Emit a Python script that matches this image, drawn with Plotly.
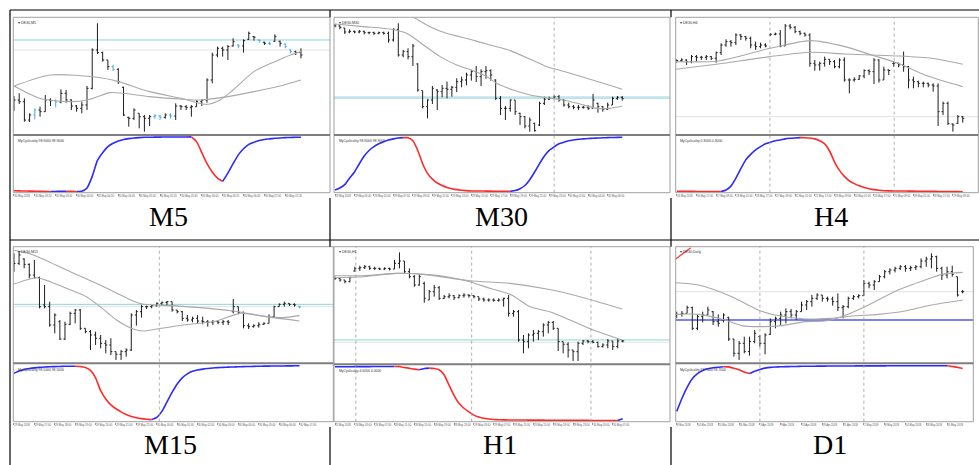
import plotly.graph_objects as go

W, H = 979, 465

# ---------------- M5 ----------------
m5_open = [12680,12700,12695,12640,12655,12670,12665,12700,12698,12694,12720,12700,12682,12675,12685,12735,12850,12842,12820,12800,12792,12738,12648,12645,12660,12650,12645,12650,12652,12648,12655,12652,12682,12680,12678,12680,12695,12700,12760,12835,12855,12850,12862,12865,12862,12882,12890,12880,12873,12870,12876,12876,12868,12850,12845,12842]
m5_high = [12712,12720,12705,12660,12675,12680,12715,12705,12702,12732,12730,12702,12685,12695,12742,12855,12930,12845,12820,12805,12795,12740,12650,12675,12660,12655,12655,12658,12655,12660,12660,12690,12685,12685,12685,12700,12702,12765,12842,12860,12860,12865,12885,12867,12882,12905,12892,12882,12875,12875,12897,12878,12870,12852,12848,12855]
m5_low = [12668,12688,12635,12634,12642,12650,12665,12682,12678,12690,12692,12670,12665,12660,12670,12732,12838,12815,12790,12787,12748,12652,12620,12640,12615,12605,12622,12644,12640,12644,12645,12640,12670,12670,12650,12680,12682,12692,12750,12828,12830,12820,12860,12855,12842,12880,12878,12872,12865,12865,12875,12860,12855,12840,12835,12825]
m5_close = [12700,12695,12640,12655,12670,12665,12700,12698,12694,12720,12700,12682,12675,12685,12735,12850,12842,12820,12800,12792,12755,12655,12645,12670,12650,12645,12650,12652,12648,12655,12652,12682,12680,12678,12680,12695,12700,12760,12835,12855,12850,12860,12875,12862,12878,12900,12888,12878,12870,12868,12890,12870,12860,12845,12842,12835]
m5_marked = [4,8,19,27,28,30,43,47,49,52,53]
m5_ma_fast_x = [0,7,16,20,26,32,37,39.5,42,46,50,53,55]
m5_ma_fast_y = [12742,12775,12768,12755,12725,12705,12687,12700,12730,12785,12815,12835,12845]
m5_ma_slow_x = [0,3,5.6,11,14,16,18.4,21,26,32.5,35.7,41,46,51,55]
m5_ma_slow_y = [12742,12718,12702,12695,12700,12710,12722,12720,12710,12702,12700,12710,12725,12742,12760]
m5_cyc = [2.0,1.8,1.6,1.4,1.2,1.0,0.8,0.6,0.8,1.0,1.2,1.0,0.8,1.0,7,28,57,71,82,88,92,95,96.5,97.7,98.3,98.8,99.0,99.1,99.2,99.3,99.35,99.4,99.45,99.5,99.55,91,71,51,36,25,19,34,51,67,78,86,90,93,95,96,97,97.7,98.3,98.6,98.8,98.9]
m5_levels = [12880, 12850]
m5_separators = []
m5_ticks = ["30 May 2018","30 May 03:20","30 May 03:40","30 May 04:00","30 May 04:20","30 May 04:40","30 May 05:00","30 May 05:20","30 May 05:40","30 May 06:00","30 May 06:20","30 May 06:40","30 May 07:00","30 May 07:20"]

# ---------------- M30 ----------------
m30_open = [12924,12922,12916,12904,12906,12904,12906,12902,12902,12900,12902,12900,12880,12912,12835,12845,12830,12808,12728,12680,12700,12730,12725,12735,12732,12738,12755,12760,12775,12785,12770,12785,12788,12760,12705,12675,12675,12700,12660,12650,12622,12630,12625,12690,12702,12705,12710,12700,12685,12680,12678,12678,12678,12675,12690,12680,12672,12685,12705,12708]
m30_high = [12928,12924,12916,12912,12908,12910,12908,12905,12905,12905,12905,12905,12915,12930,12850,12855,12868,12810,12728,12702,12742,12732,12745,12755,12742,12765,12770,12782,12790,12802,12792,12802,12792,12762,12712,12682,12702,12700,12662,12652,12648,12632,12695,12710,12710,12714,12715,12702,12692,12685,12685,12682,12684,12718,12692,12682,12692,12710,12712,12712]
m30_low = [12918,12912,12898,12900,12900,12900,12897,12897,12895,12897,12896,12872,12875,12830,12828,12822,12802,12725,12675,12645,12688,12670,12708,12705,12710,12724,12738,12744,12758,12754,12742,12764,12758,12700,12655,12640,12665,12655,12625,12615,12605,12605,12622,12685,12700,12702,12695,12680,12675,12672,12670,12674,12670,12675,12662,12665,12670,12685,12700,12698]
m30_close = [12922,12918,12904,12906,12904,12906,12902,12902,12900,12902,12900,12880,12912,12835,12845,12830,12862,12730,12680,12700,12735,12725,12735,12732,12738,12755,12760,12775,12785,12770,12785,12788,12775,12705,12675,12675,12700,12665,12650,12622,12640,12608,12690,12702,12705,12710,12700,12685,12680,12678,12678,12678,12675,12700,12680,12672,12685,12705,12708,12704]
m30_marked = []
m30_ma_fast_x = [0,5.8,11.6,14.7,18.2,21.6,25,28.4,31.2,33.2,36.6,40.1,42.8,46.9,50.3,53.8,56.5,59]
m30_ma_fast_y = [12928,12920,12912,12900,12865,12830,12805,12788,12770,12750,12730,12715,12708,12700,12688,12675,12675,12682]
m30_ma_slow_x = [12.7,16.1,19.5,22.9,27.7,31.8,36,40.1,43.5,46.9,51,55.1,59]
m30_ma_slow_y = [12970,12948,12920,12900,12882,12865,12848,12822,12800,12786,12768,12750,12732]
m30_cyc = [3.5,7,13,25,36,51,65,75,82,87,91,94,96,97.7,98.3,98.0,92.5,75,51,33.5,23,16,11.5,8,5.8,4,2.9,2.3,1.7,1.6,1.5,1.4,1.3,1.2,1.1,1.0,0.9,2.3,5.8,11.5,22,36,51,65,75,81.5,87,90,92.5,94,95.4,96,96.6,97.1,97.5,97.9,98.2,98.5,98.7,98.9]
m30_levels = [12707]
m30_separators = [45]
m30_ticks = ["29 May 2018","29 May 03:00","29 May 05:00","29 May 07:00","29 May 09:00","29 May 11:00","29 May 13:00","29 May 15:00","29 May 17:00","29 May 19:00","29 May 21:00","29 May 23:00","30 May 02:00","30 May 04:00","30 May 06:00"]

# ---------------- H4 ----------------
h4_open = [12818,12818,12820,12815,12830,12828,12828,12830,12825,12842,12865,12875,12872,12895,12890,12885,12865,12860,12865,12895,12897,12898,12862,12922,12918,12905,12900,12895,12810,12805,12810,12822,12815,12800,12820,12760,12760,12762,12772,12788,12785,12820,12760,12790,12810,12810,12805,12800,12760,12755,12750,12750,12745,12742,12665,12690,12628,12630,12650]
h4_high = [12822,12825,12822,12835,12835,12832,12835,12832,12845,12870,12882,12880,12900,12898,12892,12890,12875,12872,12870,12900,12902,12910,12928,12928,12922,12908,12902,12900,12820,12815,12830,12822,12820,12825,12828,12765,12768,12775,12792,12792,12825,12822,12800,12792,12815,12812,12845,12802,12770,12758,12755,12752,12750,12750,12695,12695,12630,12655,12652]
h4_low = [12812,12815,12805,12810,12815,12820,12820,12820,12812,12835,12860,12860,12865,12880,12878,12855,12850,12855,12858,12892,12894,12858,12862,12912,12900,12894,12890,12800,12788,12788,12800,12805,12795,12795,12755,12720,12755,12760,12765,12775,12748,12752,12760,12775,12800,12798,12785,12735,12735,12738,12738,12738,12725,12622,12655,12625,12605,12628,12632]
h4_close = [12818,12820,12815,12830,12828,12828,12830,12825,12842,12865,12875,12872,12895,12890,12885,12865,12860,12865,12862,12897,12898,12862,12922,12918,12905,12900,12895,12810,12805,12810,12822,12815,12800,12820,12760,12760,12762,12772,12788,12785,12820,12760,12790,12788,12810,12805,12800,12760,12755,12750,12750,12745,12742,12665,12690,12630,12625,12650,12645]
h4_marked = []
h4_ma_fast_x = [-0.2,8.4,18.9,27.1,34.1,39.5,44.9,50.3,58]
h4_ma_fast_y = [12815,12817,12855,12878,12860,12835,12810,12775,12740]
h4_ma_slow_x = [-0.2,8.4,18.9,27.1,34.1,39.5,44.9,51.7,58]
h4_ma_slow_y = [12792,12808,12830,12843,12838,12835,12832,12825,12807]
h4_cyc = [1.2,1.1,1.0,0.9,0.8,0.75,0.7,0.65,0.6,0.55,3.5,10.4,25,42,58,68,76,82,87,90,92.5,94,96,97,97.7,98.3,98.1,97.5,96,92.5,87,74,54,39,28,20,15,11,8,5.8,4,2.9,2.0,1.8,1.7,1.6,1.5,1.4,1.3,1.2,1.1,1.0,0.9,0.8,0.7,0.6,0.5,0.4,0.3]
h4_levels = [12650]
h4_separators = [18.9, 44.1]
h4_ticks = ["16 May 2018","16 May 17:00","17 May 09:00","18 May 01:00","18 May 17:00","21 May 09:00","22 May 01:00","22 May 17:00","23 May 09:00","24 May 01:00","24 May 17:00","25 May 09:00","28 May 01:00","28 May 17:00","29 May 09:00"]

# ---------------- M15 ----------------
m15_open = [12930,12915,12928,12912,12880,12872,12790,12785,12730,12740,12688,12732,12765,12775,12720,12710,12700,12690,12675,12670,12650,12642,12650,12655,12760,12770,12785,12785,12788,12795,12798,12800,12775,12770,12750,12745,12750,12742,12740,12738,12740,12738,12740,12770,12785,12768,12728,12725,12728,12732,12735,12755,12785,12792,12795,12792,12786]
m15_high = [12945,12952,12930,12915,12925,12875,12850,12800,12765,12745,12740,12770,12778,12778,12720,12715,12710,12700,12685,12690,12650,12655,12660,12765,12775,12790,12788,12790,12798,12800,12802,12800,12775,12772,12760,12755,12760,12755,12745,12745,12745,12745,12745,12808,12785,12770,12735,12732,12738,12738,12762,12788,12795,12800,12795,12795,12787]
m15_low = [12890,12910,12900,12870,12870,12780,12780,12725,12705,12685,12685,12730,12735,12715,12705,12655,12670,12660,12645,12640,12625,12625,12635,12652,12728,12752,12778,12780,12785,12790,12790,12770,12765,12742,12740,12738,12735,12732,12725,12730,12732,12730,12730,12765,12762,12720,12718,12722,12722,12730,12735,12752,12785,12785,12787,12785,12780]
m15_close = [12915,12940,12912,12880,12872,12785,12785,12730,12760,12688,12732,12765,12775,12720,12710,12700,12690,12675,12670,12650,12642,12650,12655,12760,12770,12785,12785,12788,12795,12798,12800,12775,12770,12750,12745,12750,12742,12740,12738,12740,12738,12740,12738,12785,12768,12728,12725,12728,12732,12735,12755,12785,12792,12795,12792,12790,12784]
m15_marked = [56]
m15_ma_fast_x = [-0.13,4.4,7.1,10.3,14.2,16.9,20.1,23.4,25.4,28,33.2,39.7,44.3,49.5,52.8,56]
m15_ma_fast_y = [12852,12872,12860,12840,12815,12785,12745,12718,12712,12718,12730,12742,12765,12755,12752,12758]
m15_ma_slow_x = [-0.13,3.8,10.3,16.9,23.4,25.4,31.2,36.5,43,49.5,56]
m15_ma_slow_y = [12955,12940,12895,12850,12802,12792,12788,12782,12772,12755,12742]
m15_cyc = [85,89,92,93.7,94.9,95.7,96.3,96.9,97.1,97.4,97.6,97.7,97.8,97.4,95.4,90.3,77,54,39,28.6,21.7,16,11.4,8,5.7,4,2.9,2.3,6.3,17,34,51,66,77,84,88.6,90.9,92.6,93.7,94.6,95.2,95.7,96.1,96.5,96.8,97.1,97.3,97.5,97.7,97.9,98.0,98.1,98.2,98.3,98.4,98.5,98.5]
m15_levels = [12792, 12785]
m15_separators = [28.5]
m15_ticks = ["29 May 2018","29 May 17:00","29 May 18:00","29 May 19:00","29 May 20:00","29 May 21:00","29 May 22:00","30 May 00:00","30 May 01:00","30 May 02:00","30 May 03:00","30 May 04:00","30 May 05:00","30 May 06:00","30 May 07:00"]

# ---------------- H1 ----------------
h1_open = [12872,12870,12865,12860,12892,12900,12902,12905,12900,12900,12898,12900,12898,12915,12922,12890,12875,12850,12855,12805,12830,12842,12810,12815,12818,12812,12818,12820,12818,12815,12808,12805,12805,12804,12805,12810,12765,12770,12685,12680,12700,12705,12710,12730,12738,12720,12680,12672,12655,12650,12675,12682,12680,12678,12665,12670,12682,12665,12682]
h1_high = [12875,12872,12865,12875,12905,12908,12910,12908,12905,12902,12903,12902,12925,12948,12922,12900,12880,12882,12860,12835,12850,12847,12820,12825,12820,12822,12825,12822,12820,12815,12812,12810,12810,12810,12812,12820,12775,12775,12700,12705,12715,12715,12735,12742,12742,12720,12680,12678,12655,12680,12685,12685,12685,12680,12675,12688,12682,12688,12685]
h1_low = [12865,12860,12855,12858,12890,12892,12898,12895,12895,12895,12895,12894,12898,12900,12885,12870,12845,12848,12797,12805,12815,12805,12808,12810,12805,12810,12812,12812,12810,12802,12800,12800,12800,12800,12785,12755,12755,12680,12645,12660,12680,12685,12695,12705,12715,12652,12645,12632,12622,12622,12670,12675,12675,12662,12662,12660,12655,12660,12678]
h1_close = [12870,12865,12860,12872,12900,12902,12905,12900,12900,12898,12900,12898,12915,12922,12890,12875,12850,12875,12810,12830,12842,12810,12815,12818,12812,12818,12820,12818,12815,12808,12805,12805,12804,12805,12810,12765,12770,12685,12680,12700,12705,12710,12730,12738,12720,12680,12672,12655,12650,12675,12682,12680,12678,12665,12670,12682,12665,12682,12682]
h1_marked = []
h1_ma_fast_x = [-0.2,5.7,12.4,17.8,22.5,27.2,31.2,35.6,39.3,43.3,47.4,52.1,57.9]
h1_ma_fast_y = [12872,12875,12885,12882,12875,12860,12840,12820,12785,12770,12745,12715,12685]
h1_ma_slow_x = [-0.2,5.7,12.4,17.8,27.2,35.3,42.7,49.4,57.9]
h1_ma_slow_y = [12878,12878,12885,12882,12863,12855,12838,12815,12778]
h1_cyc = [98.5,98.55,98.6,98.65,98.7,98.75,98.8,98.85,98.9,98.95,99.0,99.05,99.1,98.9,97.1,95.9,94.2,93,95.3,96.0,95.3,93,84,65,46.5,32,23,16.3,10.5,7,4.7,3.5,2.6,2.0,1.8,1.7,1.6,1.55,1.5,1.45,1.4,1.35,1.3,1.25,1.2,1.15,1.1,1.05,1.0,0.95,0.9,0.85,0.8,0.75,0.7,0.65,0.6,0.55,4]
h1_levels = [12685, 12678]
h1_separators = [4.2, 27.55, 51.6]
h1_ticks = ["25 May 2018","28 May 03:00","28 May 07:00","28 May 11:00","28 May 15:00","28 May 19:00","28 May 23:00","29 May 03:00","29 May 07:00","29 May 11:00","29 May 15:00","29 May 19:00","29 May 23:00","30 May 03:00","30 May 07:00"]

# ---------------- D1 ----------------
d1_open = [12760,12762,12765,12782,12720,12755,12760,12770,12740,12745,12752,12688,12645,12675,12650,12680,12695,12675,12702,12740,12750,12760,12770,12760,12770,12790,12800,12810,12820,12810,12808,12800,12782,12785,12810,12815,12818,12855,12850,12860,12875,12890,12895,12900,12905,12900,12902,12905,12922,12928,12935,12900,12880,12890,12875,12830]
d1_high = [12770,12772,12788,12785,12760,12770,12785,12772,12762,12765,12755,12688,12682,12695,12695,12715,12700,12705,12750,12755,12770,12780,12778,12775,12800,12805,12820,12825,12820,12815,12815,12825,12790,12815,12820,12822,12865,12860,12865,12880,12895,12900,12905,12910,12910,12908,12910,12930,12935,12945,12938,12905,12905,12908,12875,12835]
d1_low = [12750,12755,12765,12715,12715,12738,12760,12730,12725,12738,12682,12635,12625,12645,12638,12675,12665,12642,12700,12720,12730,12735,12750,12745,12770,12775,12785,12805,12800,12800,12788,12772,12750,12780,12805,12810,12818,12840,12835,12860,12870,12882,12888,12895,12890,12892,12895,12900,12905,12900,12890,12865,12870,12875,12815,12825]
d1_close = [12762,12765,12782,12720,12755,12760,12775,12740,12735,12760,12688,12645,12675,12650,12680,12705,12675,12700,12740,12750,12760,12770,12760,12770,12790,12800,12810,12820,12810,12808,12800,12782,12785,12810,12815,12818,12855,12850,12860,12875,12890,12895,12900,12905,12900,12902,12905,12922,12928,12935,12900,12880,12890,12882,12820,12830]
d1_marked = []
d1_ma_fast_x = [-0.2,4.2,9.3,12.5,15.7,20.2,24.7,28.5,31.7,36.2,42.6,49,51,55]
d1_ma_fast_y = [12762,12762,12745,12728,12725,12728,12740,12742,12755,12785,12835,12872,12882,12888]
d1_ma_slow_x = [-0.2,4.2,10.6,15.7,18.9,24.7,29.8,33.7,38.8,43.9,49,55]
d1_ma_slow_y = [12857,12850,12815,12775,12760,12748,12750,12757,12762,12772,12790,12805]
d1_cyc = [17,40,60,75.4,84.6,90.3,93.1,94.9,96,96.9,96.6,94.3,91.4,87.4,84.6,88.6,92,94.3,95.7,96.3,96.7,97.0,97.2,97.4,97.6,97.7,97.8,97.9,98.0,98.05,98.1,98.15,98.2,98.25,98.3,98.35,98.4,98.42,98.44,98.46,98.48,98.5,98.52,98.54,98.56,98.58,98.6,98.62,98.64,98.66,98.68,98.7,98.72,97.4,96,93.7]
d1_levels = [12745, 12830]
d1_separators = [16.0, 36.0]
d1_trend_x = [-0.2, 2.7]
d1_trend_y = [12928, 12962]
d1_ticks = ["8 Mar 2018","14 Mar 2018","20 Mar 2018","26 Mar 2018","3 Apr 2018","9 Apr 2018","13 Apr 2018","19 Apr 2018","25 Apr 2018","2 May 2018","8 May 2018","14 May 2018","18 May 2018","24 May 2018"]

symbols = ["DE30,M5", "DE30,M30", "DE30,H4", "DE30,M15", "DE30,H1", "DE30,Daily"]
labels = ["M5", "M30", "H4", "M15", "H1", "D1"]

# ---------------- layout geometry (pixels) ----------------
charts = [
    dict(o=m5_open, h=m5_high, l=m5_low, c=m5_close, mk=m5_marked, fa=(m5_ma_fast_x, m5_ma_fast_y), sl=(m5_ma_slow_x, m5_ma_slow_y),
         cyc=m5_cyc, lv=m5_levels, lvs=[("#8fd3dc", 1), ("#e2e2e2", 1)], sep=m5_separators, ticks=m5_ticks,
         box=(13.3, 330.0, 17.3, 135.0, 192.7), xr=(-0.128, 60.57), yr=(12595, 12948), lab=(168, 216)),
    dict(o=m30_open, h=m30_high, l=m30_low, c=m30_close, mk=m30_marked, fa=(m30_ma_fast_x, m30_ma_fast_y), sl=(m30_ma_slow_x, m30_ma_slow_y),
         cyc=m30_cyc, lv=m30_levels, lvs=[("#bfe4ea", 2.6)], sep=m30_separators, ticks=m30_ticks,
         box=(334.0, 670.0, 17.3, 135.0, 192.7), xr=(-0.205, 68.8), yr=(12595, 12948), lab=(501, 216)),
    dict(o=h4_open, h=h4_high, l=h4_low, c=h4_close, mk=h4_marked, fa=(h4_ma_fast_x, h4_ma_fast_y), sl=(h4_ma_slow_x, h4_ma_slow_y),
         cyc=h4_cyc, lv=h4_levels, lvs=[("#e2e2e2", 1)], sep=h4_separators, ticks=h4_ticks,
         box=(675.7, 978.3, 17.3, 135.0, 192.7), xr=(-0.203, 61.15), yr=(12595, 12948), lab=(831, 216)),
    dict(o=m15_open, h=m15_high, l=m15_low, c=m15_close, mk=m15_marked, fa=(m15_ma_fast_x, m15_ma_fast_y), sl=(m15_ma_slow_x, m15_ma_slow_y),
         cyc=m15_cyc, lv=m15_levels, lvs=[("#8fd3dc", 1), ("#e2e2e2", 1)], sep=m15_separators, ticks=m15_ticks,
         box=(13.3, 333.3, 246.7, 363.3, 421.7), xr=(-0.131, 62.61), yr=(12615, 12965), lab=(170, 444)),
    dict(o=h1_open, h=h1_high, l=h1_low, c=h1_close, mk=h1_marked, fa=(h1_ma_fast_x, h1_ma_fast_y), sl=(h1_ma_slow_x, h1_ma_slow_y),
         cyc=h1_cyc, lv=h1_levels, lvs=[("#8fd3dc", 1), ("#e2e2e2", 1)], sep=h1_separators, ticks=h1_ticks,
         box=(334.0, 670.0, 246.7, 364.3, 421.7), xr=(-0.202, 67.54), yr=(12612, 12965), lab=(500, 444)),
    dict(o=d1_open, h=d1_high, l=d1_low, c=d1_close, mk=d1_marked, fa=(d1_ma_fast_x, d1_ma_fast_y), sl=(d1_ma_slow_x, d1_ma_slow_y),
         cyc=d1_cyc, lv=d1_levels, lvs=[("#4a5cf0", 1.6), ("#e2e2e2", 1)], sep=d1_separators, ticks=d1_ticks,
         box=(675.7, 973.3, 246.7, 363.3, 421.7), xr=(-0.192, 57.05), yr=(12615, 12965), lab=(830, 444)),
]


def px(x):
    return x / W


def py(y):
    return 1 - y / H


def sfx(n):
    return "" if n == 1 else str(n)


fig = go.Figure()
shapes = []
annotations = []
layout_axes = {}

BAR = "#1e1e1e"
MARK = "#45aee0"
MA = "#a9a9a9"
BLUE = "#2b2bff"
RED = "#ff2b2b"

for k, ch in enumerate(charts):
    nm, ni = 2 * k + 1, 2 * k + 2
    xm, ym, xi, yi = "x" + sfx(nm), "y" + sfx(nm), "x" + sfx(ni), "y" + sfx(ni)
    left, right, top, mid, bot = ch["box"]
    n = len(ch["o"])
    idx = list(range(n))
    plain = [i for i in idx if i not in ch["mk"]]
    for sel, col in ((plain, BAR), (ch["mk"], MARK)):
        if not sel:
            continue
        fig.add_trace(go.Ohlc(
            x=sel, open=[ch["o"][i] for i in sel], high=[ch["h"][i] for i in sel],
            low=[ch["l"][i] for i in sel], close=[ch["c"][i] for i in sel],
            increasing_line_color=col, decreasing_line_color=col, line_width=1,
            tickwidth=0.3, xaxis=xm, yaxis=ym, hoverinfo="skip", showlegend=False))
    for mx, my in (ch["fa"], ch["sl"]):
        fig.add_trace(go.Scatter(x=mx, y=my, mode="lines", line=dict(color=MA, width=1.1, shape="spline", smoothing=0.7),
                                 xaxis=xm, yaxis=ym, hoverinfo="skip", showlegend=False))
    if k == 5:
        fig.add_trace(go.Scatter(x=d1_trend_x, y=d1_trend_y, mode="lines", line=dict(color="#ff4040", width=1.4),
                                 xaxis=xm, yaxis=ym, hoverinfo="skip", showlegend=False))
    # indicator, coloured by direction
    v = ch["cyc"]
    runs = []
    start, cur = 0, None
    for i in range(1, len(v)):
        col = BLUE if v[i] >= v[i - 1] else RED
        if cur is None:
            cur = col
        if col != cur:
            runs.append((start, i - 1, cur))
            start, cur = i - 1, col
    runs.append((start, len(v) - 1, cur))
    for s, e, col in runs:
        fig.add_trace(go.Scatter(x=list(range(s, e + 1)), y=v[s:e + 1], mode="lines",
                                 line=dict(color=col, width=1.6, shape="spline", smoothing=0.5),
                                 xaxis=xi, yaxis=yi, hoverinfo="skip", showlegend=False))
    # axes
    dom_x = [px(left), px(right)]
    layout_axes["xaxis" + sfx(nm)] = dict(domain=dom_x, range=list(ch["xr"]), showticklabels=False, showgrid=False,
                                          zeroline=False, ticks="", rangeslider=dict(visible=False), anchor=ym)
    layout_axes["yaxis" + sfx(nm)] = dict(domain=[py(mid), py(top)], range=list(ch["yr"]), showticklabels=False,
                                          showgrid=False, zeroline=False, ticks="", anchor=xm)
    tv = list(range(0, 4 * len(ch["ticks"]), 4))
    layout_axes["xaxis" + sfx(ni)] = dict(domain=dom_x, range=list(ch["xr"]), showgrid=False, zeroline=False,
                                          tickvals=tv, ticktext=ch["ticks"], ticks="outside", ticklen=2,
                                          tickwidth=0.6, tickcolor="#999999", ticklabelposition="outside right",
                                          tickangle=0, ticklabelstandoff=0,
                                          tickfont=dict(size=2.7, color="#555555", family="Liberation Sans"),
                                          anchor=yi)
    layout_axes["yaxis" + sfx(ni)] = dict(domain=[py(bot), py(mid)], range=[-1.5, 103], showticklabels=False,
                                          showgrid=False, zeroline=False, ticks="", anchor=xi)
    # level lines
    for lvl, (lc, lw) in zip(ch["lv"], ch["lvs"]):
        shapes.append(dict(type="line", xref=xm + " domain", yref=ym, x0=0, x1=1, y0=lvl, y1=lvl,
                           line=dict(color=lc, width=lw), layer="below"))
    # period separators
    for sp in ch["sep"]:
        shapes.append(dict(type="line", xref=xm, yref="paper", x0=sp, x1=sp, y0=py(bot), y1=py(top),
                           line=dict(color="#9a9a9a", width=0.8, dash="dot"), layer="above"))
    # frame and divider
    shapes.append(dict(type="rect", xref="paper", yref="paper", x0=px(left), x1=px(right), y0=py(bot), y1=py(top),
                       line=dict(color="#a0a0a0", width=1), fillcolor="rgba(0,0,0,0)", layer="above"))
    shapes.append(dict(type="line", xref="paper", yref="paper", x0=px(left), x1=px(right), y0=py(mid), y1=py(mid),
                       line=dict(color="#7f7f7f", width=2), layer="above"))
    # small texts
    annotations.append(dict(x=px(left + 2.5), y=py(top + 1.5), xref="paper", yref="paper", xanchor="left",
                            yanchor="top", showarrow=False, text="\u25be " + symbols[k],
                            font=dict(size=3.6, color="#333333", family="Liberation Sans")))
    annotations.append(dict(x=px(left + 2.5), y=py(mid + 2.5), xref="paper", yref="paper", xanchor="left",
                            yanchor="top", showarrow=False,
                            text="MyCyclicality %.4f %.4f" % (v[-1], v[-1]),
                            font=dict(size=3.4, color="#333333", family="Liberation Sans")))
    annotations.append(dict(x=px(ch["lab"][0]), y=py(ch["lab"][1]), xref="paper", yref="paper", xanchor="center",
                            yanchor="middle", showarrow=False, text=labels[k],
                            font=dict(size=28, color="#000000", family="Liberation Serif")))

# table lines (visible parts only)
table_segments = [
    (10, 10, 979, 10), (10, 10, 10, 465), (10, 240, 979, 240),
    (330, 10, 330, 17.3), (330, 198, 330, 246.7), (330, 427, 330, 465),
    (671, 10, 671, 17.3), (671, 198, 671, 246.7), (671, 427, 671, 465),
]
for x0, y0, x1, y1 in table_segments:
    shapes.append(dict(type="line", xref="paper", yref="paper", x0=px(x0), y0=py(y0), x1=px(x1), y1=py(y1),
                       line=dict(color="#000000", width=1.2), layer="above"))

fig.update_layout(width=W, height=H, autosize=False, margin=dict(l=0, r=0, t=0, b=0),
                  paper_bgcolor="white", plot_bgcolor="rgba(0,0,0,0)", showlegend=False,
                  shapes=shapes, annotations=annotations, **layout_axes)
fig.write_html("out.html", config={"displayModeBar": False},
               post_script="document.body.style.margin='0px';document.body.style.overflow='hidden';")
